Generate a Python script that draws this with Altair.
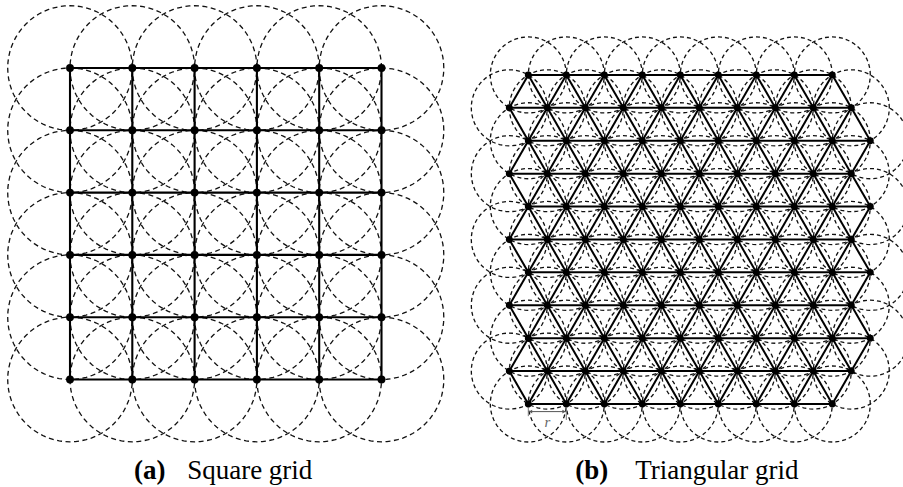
import math
import altair as alt
import pandas as pd

# ---- grid definitions -------------------------------------------------------
# Square grid: SQ_N x SQ_N nodes with unit spacing; sensing radius = 1 spacing
SQ_N = 6

# Triangular grid: number of nodes per row and horizontal shift of each row
# (top row first, distances in units of r)
TRI_ROW_COUNTS = [9, 10, 10, 10, 10, 10, 10, 10, 10, 10, 9]
TRI_ROW_SHIFTS = [0.5, 0.0, 0.5, 0.0, 0.5, 0.0, 0.5, 0.0, 0.5, 0.0, 0.5]

CAPTION_A = ["(a)", "Square grid"]
CAPTION_B = ["(b)", "Triangular grid"]
RADIUS_LABEL = ["r"]

ROW_H = math.sqrt(3) / 2
SERIF = "Liberation Serif"

# ---- square grid geometry ---------------------------------------------------
sq_nodes = pd.DataFrame(
    [{"id": f"s{i}_{j}", "x": i, "y": j} for j in range(SQ_N) for i in range(SQ_N)]
)
sq_edges = []
for j in range(SQ_N):
    for i in range(SQ_N):
        if i + 1 < SQ_N:
            sq_edges.append({"x": i, "y": j, "x2": i + 1, "y2": j})
        if j + 1 < SQ_N:
            sq_edges.append({"x": i, "y": j, "x2": i, "y2": j + 1})
sq_edges = pd.DataFrame(sq_edges)

# ---- triangular grid geometry -----------------------------------------------
n_rows = len(TRI_ROW_COUNTS)
tri_rows = []
for k, (cnt, sh) in enumerate(zip(TRI_ROW_COUNTS, TRI_ROW_SHIFTS)):
    yk = (n_rows - 1 - k) * ROW_H
    tri_rows.append([(sh + i, yk) for i in range(cnt)])

tri_nodes = pd.DataFrame(
    [{"id": f"t{k}_{i}", "x": p[0], "y": p[1]}
     for k, row in enumerate(tri_rows) for i, p in enumerate(row)]
)
tri_edges = []
for k, row in enumerate(tri_rows):
    for a, b in zip(row[:-1], row[1:]):
        tri_edges.append({"x": a[0], "y": a[1], "x2": b[0], "y2": b[1]})
    if k + 1 < n_rows:
        for a in row:
            for b in tri_rows[k + 1]:
                if abs(abs(a[0] - b[0]) - 0.5) < 1e-9:
                    tri_edges.append({"x": a[0], "y": a[1], "x2": b[0], "y2": b[1]})
tri_edges = pd.DataFrame(tri_edges)


# ---- layer builders ---------------------------------------------------------
def circle_layer(nodes, xs, ys, dash):
    """Dashed circle of radius 1 (one grid spacing) around every node."""
    return (
        alt.Chart(nodes)
        .transform_calculate(k="sequence(0, 73)")
        .transform_flatten(["k"])
        .transform_calculate(
            cx="datum.x + cos(datum.k * PI / 36)",
            cy="datum.y + sin(datum.k * PI / 36)",
        )
        .mark_line(stroke="#111111", strokeWidth=1.3, strokeDash=dash, clip=True)
        .encode(
            x=alt.X("cx:Q", scale=xs, axis=None),
            y=alt.Y("cy:Q", scale=ys, axis=None),
            detail="id:N",
            order="k:Q",
        )
    )


def edge_layer(edges, xs, ys, width):
    return (
        alt.Chart(edges)
        .mark_rule(color="black", strokeWidth=width)
        .encode(
            x=alt.X("x:Q", scale=xs, axis=None),
            y=alt.Y("y:Q", scale=ys, axis=None),
            x2="x2:Q",
            y2="y2:Q",
        )
    )


def node_layer(nodes, xs, ys, size):
    return (
        alt.Chart(nodes)
        .mark_circle(color="black", opacity=1, size=size)
        .encode(
            x=alt.X("x:Q", scale=xs, axis=None),
            y=alt.Y("y:Q", scale=ys, axis=None),
        )
    )


def caption_layers(caption, cx, xs, dx_label, dx_text):
    df = pd.DataFrame({"x": [cx], "lab": [caption[0]], "txt": [caption[1]]})
    base = alt.Chart(df)
    lab = base.mark_text(
        font=SERIF, fontSize=27, fontWeight="bold", color="black",
        baseline="alphabetic", align="center", dx=dx_label,
    ).encode(x=alt.X("x:Q", scale=xs, axis=None), y=alt.value(479), text="lab:N")
    txt = base.mark_text(
        font=SERIF, fontSize=27, color="black",
        baseline="alphabetic", align="center", dx=dx_text,
    ).encode(x=alt.X("x:Q", scale=xs, axis=None), y=alt.value(479), text="txt:N")
    return [lab, txt]


# ---- panel (a): square grid -------------------------------------------------
xs_a = alt.Scale(domain=[-1.1236, 6.4205], nice=False, zero=False)
ys_a = alt.Scale(domain=[-1.7255, 6.0915], nice=False, zero=False)

panel_a = alt.layer(
    circle_layer(sq_nodes, xs_a, ys_a, [5, 3.5]),
    edge_layer(sq_edges, xs_a, ys_a, 2.1),
    node_layer(sq_nodes, xs_a, ys_a, 62),
    *caption_layers(CAPTION_A, (SQ_N - 1) / 2, xs_a, -76, 24),
).properties(width=470, height=487)

# ---- panel (b): triangular grid ---------------------------------------------
xs_b = alt.Scale(domain=[-1.0342, 10.3605], nice=False, zero=False)
ys_b = alt.Scale(domain=[-2.1842, 10.6316], nice=False, zero=False)

# spacing marker below the first two nodes of the bottom row
r0, r1 = tri_rows[-1][0], tri_rows[-1][1]
marker = pd.DataFrame({"x": [r0[0]], "x2": [r1[0]], "y": [r0[1] - 0.2]})
ticks = pd.DataFrame({
    "x": [r0[0], r1[0]],
    "y": [r0[1] - 0.08, r1[1] - 0.08],
    "y2": [r0[1] - 0.32, r1[1] - 0.42],
})
heads = pd.DataFrame({
    "x": [r0[0] + 0.06, r1[0] - 0.06],
    "y": [r0[1] - 0.2, r1[1] - 0.2],
    "s": ["triangle-left", "triangle-right"],
})
label = pd.DataFrame({"x": [(r0[0] + r1[0]) / 2], "y": [r0[1] - 0.47], "t": RADIUS_LABEL})

marker_rule = alt.Chart(marker).mark_rule(color="#555", strokeWidth=1).encode(
    x=alt.X("x:Q", scale=xs_b, axis=None), x2="x2:Q",
    y=alt.Y("y:Q", scale=ys_b, axis=None),
)
tick_rule = alt.Chart(ticks).mark_rule(color="#777", strokeWidth=1).encode(
    x=alt.X("x:Q", scale=xs_b, axis=None),
    y=alt.Y("y:Q", scale=ys_b, axis=None), y2="y2:Q",
)
head_pts = alt.Chart(heads).mark_point(
    filled=True, color="#555", size=14, opacity=1
).encode(
    x=alt.X("x:Q", scale=xs_b, axis=None),
    y=alt.Y("y:Q", scale=ys_b, axis=None),
    shape=alt.Shape("s:N", scale=None, legend=None),
)
r_text = alt.Chart(label).mark_text(
    font=SERIF, fontSize=15, fontStyle="italic", color="#666", baseline="middle"
).encode(
    x=alt.X("x:Q", scale=xs_b, axis=None),
    y=alt.Y("y:Q", scale=ys_b, axis=None),
    text="t:N",
)

tri_cx = (tri_nodes["x"].min() + tri_nodes["x"].max()) / 2

panel_b = alt.layer(
    circle_layer(tri_nodes, xs_b, ys_b, [4, 3]),
    edge_layer(tri_edges, xs_b, ys_b, 2),
    node_layer(tri_nodes, xs_b, ys_b, 48),
    marker_rule, tick_rule, head_pts, r_text,
    *caption_layers(CAPTION_B, tri_cx, xs_b, -98, 27),
).properties(width=433, height=487)

chart = (
    alt.hconcat(panel_a, panel_b, spacing=0)
    .properties(padding=0, background="white")
    .configure_view(stroke=None)
)

chart.save("out.html", embed_options={"renderer": "svg", "actions": False})
